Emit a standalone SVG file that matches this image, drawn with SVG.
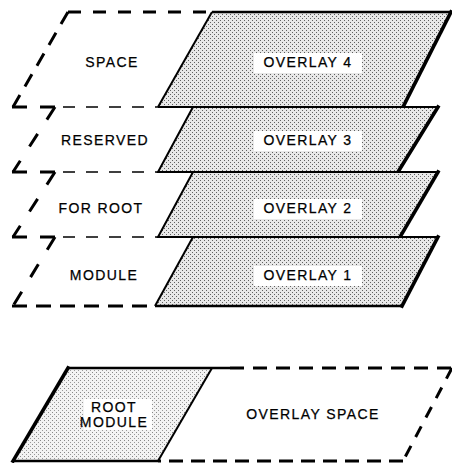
<svg xmlns="http://www.w3.org/2000/svg" width="452" height="463" viewBox="0 0 452 463">
<defs>
<pattern id="dots" width="4" height="4" patternUnits="userSpaceOnUse"><rect width="4" height="4" fill="#e8e8e8"/><rect x="0" y="0" width="1" height="1" fill="#606060"/><rect x="2" y="2" width="1" height="1" fill="#606060"/></pattern>
<pattern id="dotsLight" width="4" height="4" patternUnits="userSpaceOnUse"><rect width="4" height="4" fill="#f3f3f3"/><rect x="0" y="0" width="1" height="1" fill="#888"/><rect x="2" y="2" width="1" height="1" fill="#999"/></pattern>
<style>
.lbl{font-family:"Liberation Sans",Arial,sans-serif;font-size:14px;letter-spacing:1.4px;fill:#000;stroke:#000;stroke-width:0.25;text-anchor:middle}
.s{fill:none;stroke:#000;stroke-width:2;stroke-linejoin:miter}
.st{fill:none;stroke:#000;stroke-width:2.6}
.edge{fill:none;stroke:#000;stroke-width:3.6;stroke-linecap:square}
.dk{fill:none;stroke:#000;stroke-width:3}
.dthin{fill:none;stroke:#000;stroke-width:1.5;stroke-dasharray:12 11}
.box{fill:#fff}
</style>
</defs>

<g id="layer-overlay4">
<polygon points="212,12 451,12 403,107 158,107" fill="url(#dots)"/>
<rect class="box" x="254" y="53" width="108" height="20"/>
<path class="st" d="M212,12 L452,12"/>
<path class="s" d="M158,107 L212,12"/>
<path class="s" d="M158,107 L403,107"/>
<path class="edge" d="M451,12 L403,107"/>
<path class="dk" d="M68,12 L212,12" stroke-dasharray="13 12"/>
<path class="dk" d="M68,12 L13,107" stroke-dasharray="14 10"/>
<path class="dk" d="M12,107 L27,107 M40,107 L55,107"/>
<path class="dthin" d="M63,107 L158,107"/>
<text class="lbl" x="112" y="67">SPACE</text>
<text class="lbl" x="308" y="67">OVERLAY 4</text>
</g>

<g id="layer-overlay3">
<polygon points="193,107 438,107 398,172 158,172" fill="url(#dots)"/>
<rect class="box" x="254" y="131" width="108" height="20"/>
<path class="s" d="M193,107 L438,107"/>
<path class="s" d="M193,107 L158,172 L398,172"/>
<path class="edge" d="M438,107 L398,172"/>
<path class="dk" d="M55,107 L13,172" stroke-dasharray="15 17"/>
<path class="dk" d="M12,172 L27,172 M40,172 L55,172"/>
<path class="dthin" d="M63,172 L158,172"/>
<text class="lbl" x="105" y="145">RESERVED</text>
<text class="lbl" x="308" y="145">OVERLAY 3</text>
</g>

<g id="layer-overlay2">
<polygon points="193,172 438,172 400,237 158,237" fill="url(#dots)"/>
<rect class="box" x="254" y="199" width="108" height="20"/>
<path class="s" d="M193,172 L438,172"/>
<path class="s" d="M193,172 L158,237 L400,237"/>
<path class="edge" d="M438,172 L400,237"/>
<path class="dk" d="M55,172 L13,237" stroke-dasharray="15 17"/>
<path class="dk" d="M12,237 L27,237 M40,237 L55,237"/>
<path class="dthin" d="M63,237 L158,237"/>
<text class="lbl" x="101" y="213">FOR ROOT</text>
<text class="lbl" x="308" y="213">OVERLAY 2</text>
</g>

<g id="layer-overlay1">
<polygon points="193,237 438,237 402,306 155,306" fill="url(#dots)"/>
<rect class="box" x="254" y="266" width="108" height="20"/>
<path class="s" d="M193,237 L438,237"/>
<path class="s" d="M193,237 L155,306"/>
<path class="st" d="M155,306 L402,306"/>
<path class="edge" d="M438,237 L402,306"/>
<path class="dk" d="M55,237 L13,306" stroke-dasharray="15 17"/>
<path class="dk" d="M12,306 L155,306" stroke-dasharray="15 9"/>
<text class="lbl" x="104" y="280">MODULE</text>
<text class="lbl" x="308" y="280">OVERLAY 1</text>
</g>

<g id="root-module">
<polygon points="68,368 212,368 158,461 13,461" fill="url(#dotsLight)"/>
<rect class="box" x="84" y="399" width="68" height="31"/>
<path class="st" d="M68,368 L230,368"/>
<path class="st" d="M13,461 L158,461"/>
<path class="edge" d="M68,368 L13,461"/>
<path class="s" d="M212,368 L158,461"/>
<text class="lbl" x="114" y="412">ROOT</text>
<text class="lbl" x="114" y="427">MODULE</text>
</g>

<g id="overlay-space">
<path class="dk" d="M230,368 L452,368" stroke-dasharray="14 9"/>
<path class="dk" d="M452,368 L403,461" stroke-dasharray="12 10"/>
<path class="dk" d="M403,461 L158,461" stroke-dasharray="14 8"/>
<text class="lbl" x="313" y="419">OVERLAY SPACE</text>
</g>

<g id="connectors"></g>
</svg>
